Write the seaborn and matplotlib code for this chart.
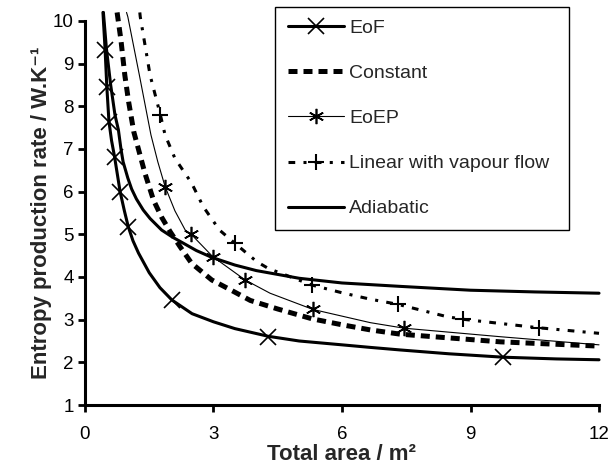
import matplotlib
matplotlib.use("Agg")
import matplotlib.pyplot as plt
from matplotlib.lines import Line2D
import seaborn as sns

# ---------------- data ----------------
series_names = ["EoF", "Constant", "EoEP", "Linear with vapour flow", "Adiabatic"]

eof_x = [0.42, 0.47, 0.51, 0.56, 0.62, 0.69, 0.76, 0.82, 0.92, 1.01, 1.12, 1.25, 1.5, 1.75, 2.03,
         2.5, 3.0, 3.5, 4.28, 5.0, 6.0, 6.66, 7.36, 8.5, 9.77, 11.0, 12.0]
eof_y = [10.2, 9.32, 8.46, 7.64, 7.2, 6.82, 6.38, 6.0, 5.55, 5.18, 4.85, 4.56, 4.1, 3.75, 3.46,
         3.14, 2.95, 2.79, 2.61, 2.5, 2.41, 2.35, 2.29, 2.2, 2.12, 2.08, 2.06]
eof_mx = [0.47, 0.51, 0.56, 0.69, 0.82, 1.01, 2.03, 4.28, 9.77]
eof_my = [9.32, 8.46, 7.64, 6.82, 6.0, 5.18, 3.46, 2.6, 2.12]

const_x = [0.75, 0.84, 0.93, 1.02, 1.14, 1.4, 1.6, 1.79, 1.99, 2.22, 2.49, 2.96, 3.47, 3.86, 4.5,
           5.3, 6.0, 6.66, 7.36, 8.14, 9.7, 12.0]
const_y = [10.2, 9.55, 8.73, 8.1, 7.4, 6.43, 5.8, 5.4, 5.06, 4.71, 4.32, 3.93, 3.66, 3.45, 3.25,
           3.02, 2.88, 2.76, 2.66, 2.6, 2.48, 2.38]

eoep_x = [0.97, 1.0, 1.27, 1.54, 1.7, 1.87, 2.1, 2.34, 2.48, 2.98, 3.74, 4.32, 5.32, 6.66, 7.45,
          9.7, 12.0]
eoep_y = [10.2, 10.1, 8.73, 7.33, 6.7, 6.12, 5.55, 5.1, 5.0, 4.48, 3.93, 3.62, 3.24, 2.93, 2.8,
          2.6, 2.41]
eoep_mx = [1.87, 2.48, 2.98, 3.74, 5.32, 7.45]
eoep_my = [6.12, 5.0, 4.48, 3.93, 3.24, 2.8]

lin_x = [1.28, 1.29, 1.52, 1.76, 1.87, 2.1, 2.49, 2.76, 3.14, 3.5, 4.01, 4.28, 5.3, 6.0, 6.66,
         7.3, 8.45, 8.82, 10.59, 12.0]
lin_y = [10.2, 10.1, 8.73, 7.8, 7.33, 6.78, 6.2, 5.65, 5.1, 4.79, 4.36, 4.2, 3.81, 3.63, 3.48,
         3.36, 3.07, 3.01, 2.81, 2.68]
lin_mx = [1.76, 3.5, 5.3, 7.3, 8.82, 10.59]
lin_my = [7.8, 4.79, 3.81, 3.36, 3.01, 2.81]

adia_x = [0.43, 0.5, 0.6, 0.7, 0.78, 0.84, 0.89, 1.0, 1.09, 1.2, 1.36, 1.52, 1.79, 2.05, 2.3,
          2.6, 2.96, 3.5, 4.0, 5.0, 6.0, 7.36, 9.0, 10.5, 12.0]
adia_y = [10.2, 9.36, 8.5, 7.8, 7.45, 7.0, 6.7, 6.32, 6.06, 5.83, 5.57, 5.37, 5.1, 4.93, 4.79,
          4.62, 4.46, 4.28, 4.15, 3.97, 3.86, 3.78, 3.69, 3.65, 3.62]

x_ticks = [0, 3, 6, 9, 12]
y_ticks = [1, 2, 3, 4, 5, 6, 7, 8, 9, 10]
x_label = "Total area / m²"
y_label = "Entropy production rate / W.K⁻¹"

# ---------------- style ----------------
sns.set_style("ticks")
plt.rcParams["font.family"] = ["Liberation Sans", "DejaVu Sans"]

fig = plt.figure(figsize=(6.1, 4.66), dpi=100)
ax = fig.add_axes([0.1393, 0.1309, 0.8427, 0.8241])

styles = {
    "EoF": dict(lw=2.2, ls="-"),
    "Constant": dict(lw=3.6, ls=(0, (1.8, 1.2))),
    "EoEP": dict(lw=0.8, ls="-"),
    "Linear with vapour flow": dict(lw=2.2, ls=(0, (2.2, 2.7, 1.0, 2.7))),
    "Adiabatic": dict(lw=2.2, ls="-"),
}
mstyles = {
    "EoF": dict(marker="x", ms=12, mew=1.2),
    "EoEP": dict(marker=(6, 2, 0), ms=11, mew=1.2),
    "Linear with vapour flow": dict(marker="+", ms=12, mew=1.5),
}

lines = {
    "EoF": (eof_x, eof_y),
    "Constant": (const_x, const_y),
    "EoEP": (eoep_x, eoep_y),
    "Linear with vapour flow": (lin_x, lin_y),
    "Adiabatic": (adia_x, adia_y),
}
marks = {
    "EoF": (eof_mx, eof_my),
    "EoEP": (eoep_mx, eoep_my),
    "Linear with vapour flow": (lin_mx, lin_my),
}

for name in series_names:
    lx, ly = lines[name]
    st = styles[name]
    sns.lineplot(x=lx, y=ly, ax=ax, color="black", linewidth=st["lw"], linestyle=st["ls"],
                 estimator=None, sort=False, clip_on=False, legend=False)
    if name in marks:
        mx, my = marks[name]
        ms = mstyles[name]
        ax.plot(mx, my, linestyle="none", color="black", marker=ms["marker"],
                markersize=ms["ms"], markeredgewidth=ms["mew"], clip_on=False)

ax.set_xlim(0, 12)
ax.set_ylim(1, 10)
ax.set_xticks(x_ticks)
ax.set_yticks(y_ticks)
ax.set_xticklabels([str(t) for t in x_ticks])
ax.set_yticklabels([str(t) for t in y_ticks])

for side in ["top", "right"]:
    ax.spines[side].set_visible(False)
for side in ["left", "bottom"]:
    ax.spines[side].set_linewidth(2.2)
    ax.spines[side].set_color("black")
ax.tick_params(axis="both", direction="out", length=5, width=2.0, color="black",
               labelsize=13.5, labelcolor="black")
ax.tick_params(axis="x", pad=10)
ax.tick_params(axis="y", pad=3)

ax.set_xlabel(x_label, fontsize=16, fontweight="bold", labelpad=0.5)
ax.set_ylabel(y_label, fontsize=16, fontweight="bold", labelpad=1)

# legend
handles = []
for name in series_names:
    st = styles[name]
    kw = dict(color="black", linewidth=st["lw"], linestyle=st["ls"])
    if name in mstyles:
        ms = mstyles[name]
        kw.update(marker=ms["marker"], markersize=ms["ms"], markeredgewidth=ms["mew"])
    handles.append(Line2D([], [], **kw))
x0, x1, y0, y1 = 275 / 610, 569 / 610, 1 - 228 / 466, 1 - 7 / 466
leg = ax.legend(handles, series_names, loc="upper left", mode="expand",
                bbox_to_anchor=(x0, y0, x1 - x0, y1 - y0), bbox_transform=fig.transFigure,
                borderaxespad=0, frameon=True, fancybox=False, edgecolor="black",
                framealpha=1, fontsize=14, handlelength=2.9, labelspacing=1.41,
                handletextpad=0.25, borderpad=0.65, markerfirst=True)
leg.get_frame().set_linewidth(1.0)

fig.savefig("out.png", dpi=100)
